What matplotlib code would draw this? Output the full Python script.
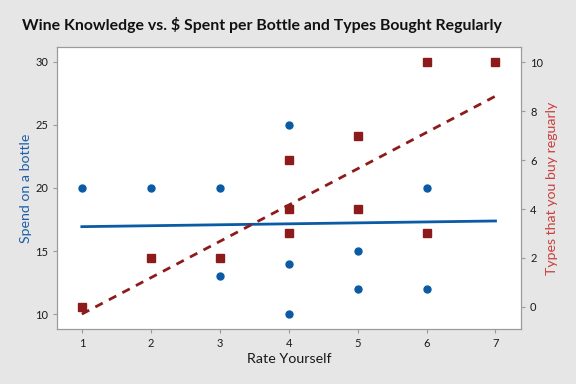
import matplotlib
matplotlib.use("Agg")
import matplotlib.pyplot as plt

# data
rate_spend = [1, 2, 3, 3, 4, 4, 4, 5, 5, 6, 6]
spend = [20, 20, 20, 13, 25, 14, 10, 15, 12, 20, 12]
rate_types = [1, 2, 3, 4, 4, 4, 5, 5, 6, 6, 7]
types = [0, 2, 2, 6, 4, 3, 7, 4, 10, 3, 10]

# fitted lines (end points)
fit_x = [1, 7]
fit_spend = [16.94, 17.39]
fit_types = [-0.3, 8.62]

x_ticks = [1, 2, 3, 4, 5, 6, 7]
left_ticks = [10, 15, 20, 25, 30]
right_ticks = [0, 2, 4, 6, 8, 10]

blue = '#0A5AA5'
red = '#8E1B1B'
grey = '#9A9A9A'

plt.rcParams['font.family'] = ['Lato', 'DejaVu Sans']

fig = plt.figure(figsize=(5.76, 3.84), dpi=100, facecolor='#E6E6E6')
ax = fig.add_axes([57 / 576, 1 - 329 / 384, (521 - 57) / 576, (329 - 47) / 384])
ax2 = ax.twinx()

ax.plot(rate_spend, spend, 'o', color=blue, markersize=5, zorder=3)
ax.plot(fit_x, fit_spend, '-', color=blue, linewidth=2, zorder=2)
ax2.plot(rate_types, types, 's', color=red, markersize=5.5, zorder=3)
ax2.plot(fit_x, fit_types, '--', color=red, linewidth=2, dashes=(3, 2.5), zorder=2)

ax.set_xlim(0.64, 7.37)
ax.set_ylim(8.84, 31.16)
ax2.set_ylim(-0.91, 10.63)

ax.set_xticks(x_ticks)
ax.set_yticks(left_ticks)
ax2.set_yticks(right_ticks)

for a in (ax, ax2):
    for s in a.spines.values():
        s.set_color(grey)
    a.tick_params(colors=grey, labelcolor='#1A1A1A', labelsize=8, length=3)

ax.set_xlabel('Rate Yourself', fontsize=10.3, color='#1A1A1A', labelpad=3)
ax.set_ylabel('Spend on a bottle', fontsize=10.2, color='#1E5EA8', labelpad=2)
ax2.set_ylabel('Types that you buy reguarly', fontsize=10.2, color='#C8413F', labelpad=2)

fig.text(261.5 / 576, 1 - 25 / 384, 'Wine Knowledge vs. $ Spent per Bottle and Types Bought Regularly',
         ha='center', va='center', fontsize=11.4, fontweight='bold', color='#111111')

fig.savefig('out.png', dpi=100, facecolor=fig.get_facecolor())
